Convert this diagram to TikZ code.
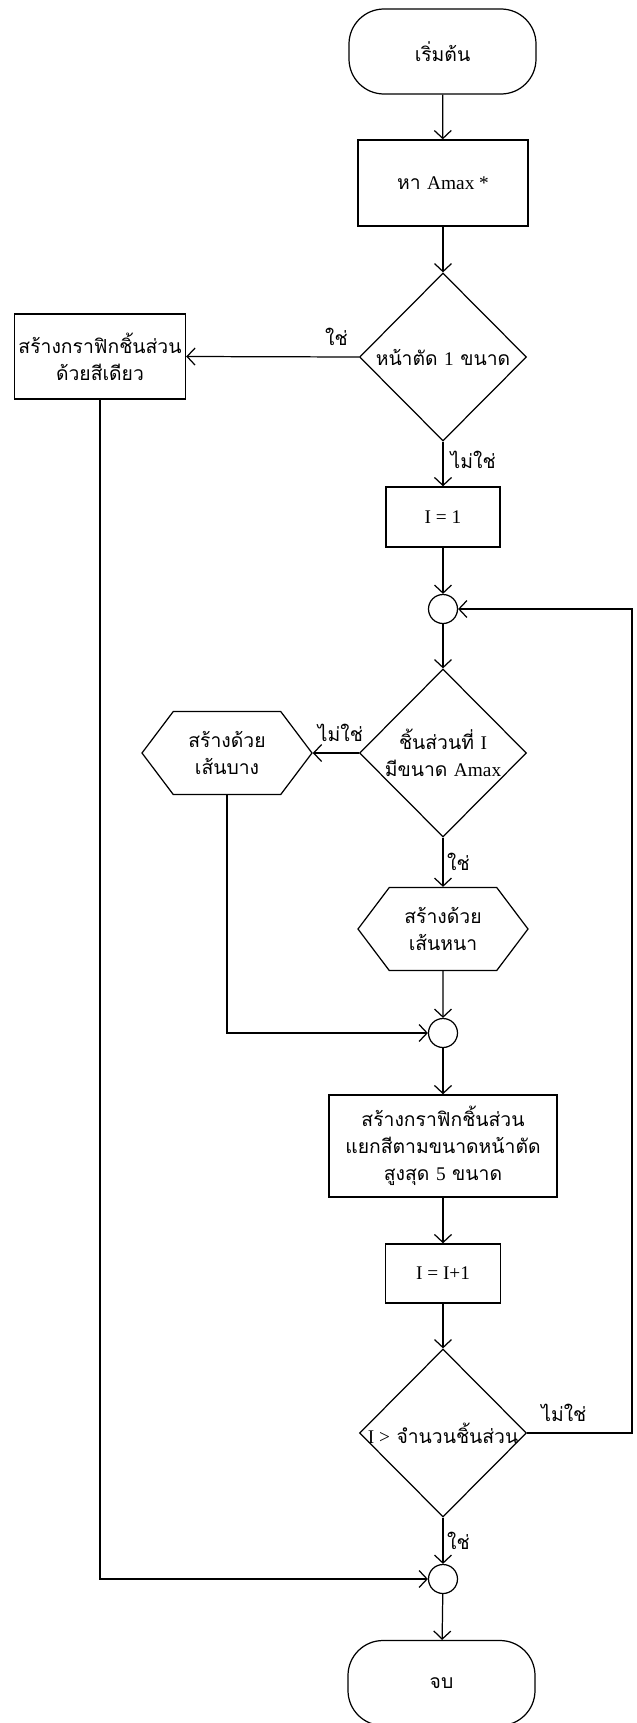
\documentclass[tikz,border=0pt]{standalone}
\usepackage{fontspec}
\setmainfont{Liberation Serif}
\newfontfamily\thaifont[Script=Thai]{Loma}
\usetikzlibrary{arrows.meta, shapes.geometric, shapes.symbols}
\newcommand{\lat}[1]{{\rmfamily #1}}
\tikzset{
  >={Straight Barb[length=1.6mm,width=3.4mm]},
  font=\fontsize{11}{15.5}\selectfont\thaifont,
  term/.style={
    draw, line width=0.7pt, rounded corners=0.7cm,
    minimum width=3.74cm, minimum height=1.70cm
  },
  proc/.style={
    draw, line width=0.8pt, align=center, inner sep=2pt
  },
  decide/.style={
    diamond, aspect=1, draw, line width=0.7pt, align=center,
    minimum width=3.34cm, minimum height=3.36cm, inner sep=-2pt
  },
  hexa/.style={
    shape=signal, signal to=west and east, signal pointer angle=106,
    draw, line width=0.7pt, align=center, inner sep=1pt,
    minimum width=3.40cm, minimum height=1.66cm
  },
  joint/.style={circle, draw, line width=0.7pt, minimum size=0.58cm, inner sep=0pt},
  arr/.style={->, line width=0.7pt},
  lab/.style={inner sep=2pt}
}
\begin{document}
\begin{tikzpicture}
  \useasboundingbox (0,0) rectangle (12.72,-34.46);
  % main column
  \node[term] (start) at (8.85,-1.03) {เริ่มต้น};
  \node[proc, minimum width=3.40cm, minimum height=1.72cm] (amax) at (8.86,-3.66) {หา \lat{Amax *}};
  \node[decide] (one) at (8.86,-7.14) {หน้าตัด \lat{1} ขนาด};
  \node[proc, minimum width=3.42cm, minimum height=1.70cm] (mono) at (2.00,-7.13) {สร้างกราฟิกชิ้นส่วน\\ด้วยสีเดียว};
  \node[proc, minimum width=2.28cm, minimum height=1.20cm] (init) at (8.86,-10.34) {\lat{I = 1}};
  \node[joint] (ja) at (8.86,-12.18) {};
  \node[decide] (isfull) at (8.86,-15.06) {ชิ้นส่วนที่ \lat{I}\\มีขนาด \lat{Amax}};
  \node[hexa] (thin) at (4.54,-15.06) {สร้างด้วย\\เส้นบาง};
  \node[hexa] (thick) at (8.86,-18.58) {สร้างด้วย\\เส้นหนา};
  \node[joint] (jb) at (8.86,-20.66) {};
  \node[proc, minimum width=4.56cm, minimum height=2.04cm] (paint) at (8.86,-22.92) {สร้างกราฟิกชิ้นส่วน\\แยกสีตามขนาดหน้าตัด\\สูงสุด \lat{5} ขนาด};
  \node[proc, minimum width=2.30cm, minimum height=1.18cm] (incr) at (8.86,-25.47) {\lat{I = I+1}};
  \node[decide] (last) at (8.86,-28.66) {\lat{I >} จำนวนชิ้นส่วน};
  \node[joint] (jc) at (8.86,-31.58) {};
  \node[term] (stop) at (8.83,-33.66) {จบ};
  \coordinate (back) at (12.64,-28.66);

  \draw[arr] (start) -- (amax);
  \draw[arr] (amax) -- (one);
  \draw[arr] (one.west) -- node[lab, above=4pt, pos=0.13] {ใช่} (mono.east);
  \draw[arr] (one.south) -- node[lab, right=2pt, pos=0.41] {ไม่ใช่} (init.north);
  \draw[arr] (init) -- (ja);
  \draw[arr] (ja) -- (isfull);
  \draw[arr] (isfull.west) -- node[lab, above=4pt, pos=0.4] {ไม่ใช่} (thin.east);
  \draw[arr] (isfull.south) -- node[lab, right, pos=0.5] {ใช่} (thick.north);
  \draw[arr] (thick) -- (jb);
  \draw[arr] (thin.south) |- (jb.west);
  \draw[arr] (jb) -- (paint);
  \draw[arr] (paint) -- (incr);
  \draw[arr] (incr) -- (last);
  % loop back
  \draw[arr] (last.east) -- node[lab, above=4pt, pos=0.35] {ไม่ใช่} (back) |- (ja.east);
  \draw[arr] (last.south) -- node[lab, right, pos=0.5] {ใช่} (jc.north);
  \draw[arr] (mono.south) |- (jc.west);
  \draw[arr] (jc) -- (stop);
\end{tikzpicture}
\end{document}
